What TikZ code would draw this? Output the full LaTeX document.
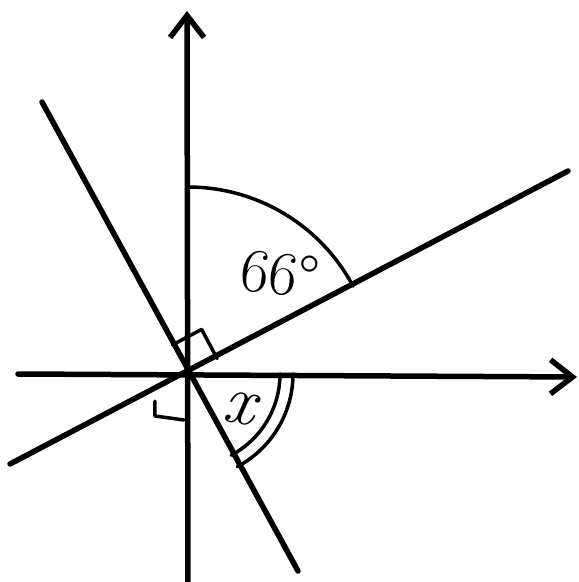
\documentclass[tikz,border=0pt]{standalone}
\usetikzlibrary{arrows.meta,calc}
\begin{document}
\begin{tikzpicture}[x=1pt,y=1pt,
  thick line/.style={line width=5.5pt, line cap=round},
  thin line/.style={line width=3.5pt, line cap=round, line join=round},
  axis arrow/.style={thick line, -{Straight Barb[length=22pt,width=34pt,line width=5.5pt]}},
  lbl/.style={inner sep=0pt}]
\useasboundingbox (-188,-208) rectangle (391,374);
\coordinate (O) at (0,0);
% axes
\coordinate (yb) at (0,-212);
\coordinate (yt) at (-1,363);
\coordinate (xl) at (-170,0);
\coordinate (xr) at (389,-3);
\draw[axis arrow] (yb) -- (yt);
\draw[axis arrow] (xl) -- (xr);
% slanted lines
\coordinate (a1) at (-178,-90);
\coordinate (a2) at (380,203);
\coordinate (b1) at (-146,272);
\coordinate (b2) at (110,-197);
\draw[thick line] (a1) -- (a2);
\draw[thick line] (b1) -- (b2);
% 66 degree arc
\draw[thin line] (90:187) arc[start angle=90, end angle=28, radius=187];
\node[lbl, rotate=-8, font=\fontsize{62}{64}\selectfont] (l66) at (92,100) {66°};
% double arc for x
\draw[thin line] (0:92) arc[start angle=0, end angle=-62, radius=92];
\draw[thin line] (0:105) arc[start angle=0, end angle=-62, radius=105];
\node[lbl, rotate=-10, font=\fontsize{70}{72}\selectfont\itshape] (lx) at (52,-34) {x};
% right angle marks
\coordinate (r1) at (28:33);
\coordinate (r2) at (118:33);
\draw[thin line] (r2) -- ($(r1)+(r2)$) -- (r1);
\coordinate (s1) at (-33,-27);
\coordinate (s2) at (-33,-42);
\coordinate (s3) at (-4,-46);
\draw[thin line] (s1) -- (s2) -- (s3);
\end{tikzpicture}
\end{document}
